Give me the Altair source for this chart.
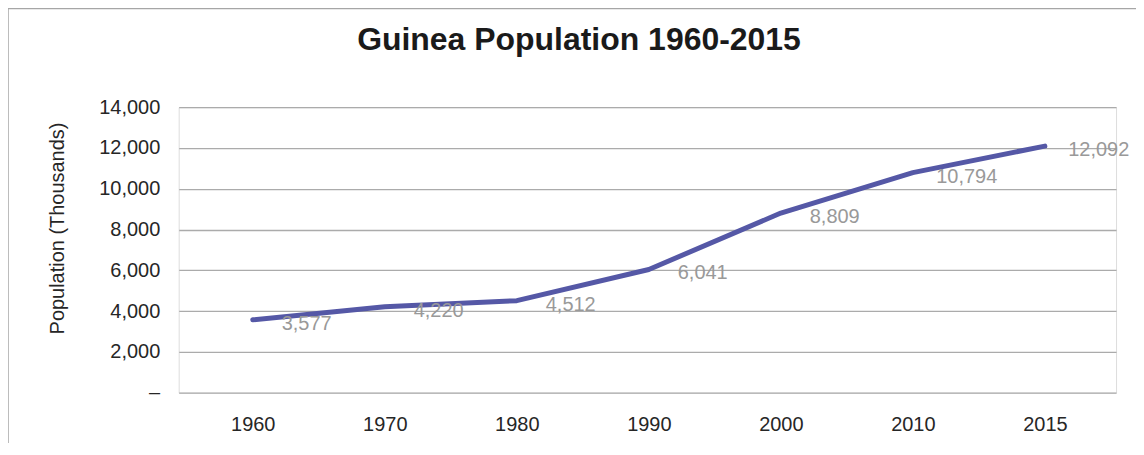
import altair as alt
import pandas as pd

# Data
years = ["1960", "1970", "1980", "1990", "2000", "2010", "2015"]
population = [3577, 4220, 4512, 6041, 8809, 10794, 12092]
y_ticks = [0, 2000, 4000, 6000, 8000, 10000, 12000, 14000]
title_text = ["Guinea Population 1960-2015"]

df = pd.DataFrame({"year": years, "pop": population})

FONT = "Liberation Sans"
W, H = 939, 286

x_enc = alt.X(
    "year:O",
    sort=years,
    scale=alt.Scale(type="point", padding=0.55, align=0.51),
    axis=alt.Axis(
        title=None, labelAngle=0, domain=False, ticks=False, grid=False,
        labelFontSize=20, labelPadding=22, labelColor="#262626", labelFont=FONT,
    ),
)
y_enc = alt.Y(
    "pop:Q",
    scale=alt.Scale(domain=[0, 14000], nice=False),
    axis=alt.Axis(
        title="Population (Thousands)", values=y_ticks,
        labelExpr="datum.value == 0 ? '–\u00a0\u00a0' : format(datum.value, ',')",
        domain=False, ticks=False, grid=True, gridColor="#ababab", gridWidth=1.3,
        labelFontSize=20, labelPadding=19, labelColor="#262626", labelFont=FONT,
        titleFontSize=20, titleFontWeight="normal", titleColor="#262626", titleFont=FONT,
        titleX=-121, titleY=121, titleBaseline="middle", titleAngle=270, titleAlign="center",
    ),
)

line = alt.Chart(df).mark_line(
    color="#5558A6", strokeWidth=5, strokeCap="round", strokeJoin="round"
).encode(x=x_enc, y=y_enc)

labels = alt.Chart(df).mark_text(
    align="center", baseline="middle", dx=54, dy=4, fontSize=20, color="#999999", font=FONT
).encode(
    x=alt.X("year:O", sort=years),
    y=alt.Y("pop:Q"),
    text=alt.Text("pop:Q", format=","),
)

border = alt.Chart(pd.DataFrame({"d": [0]})).mark_rect(
    fillOpacity=0, stroke="#a6a6a6", strokeWidth=1.5
).encode(
    x=alt.value(-171), x2=alt.value(1100), y=alt.value(-99), y2=alt.value(400)
)

title = alt.Chart(pd.DataFrame({"t": title_text})).mark_text(
    align="center", baseline="alphabetic", fontSize=32, fontWeight="bold",
    font=FONT, color="#1a1a1a"
).encode(
    x=alt.value(401), y=alt.value(-57), text="t:N"
)

chart = alt.layer(border, line, labels, title).properties(
    width=W, height=H,
    autosize=alt.AutoSizeParams(type="none"),
    padding={"left": 171, "top": 99, "right": 20, "bottom": 50},
).configure_view(stroke=None).configure(background="white")

chart.save("out.html", embed_options={"renderer": "svg", "actions": False})
